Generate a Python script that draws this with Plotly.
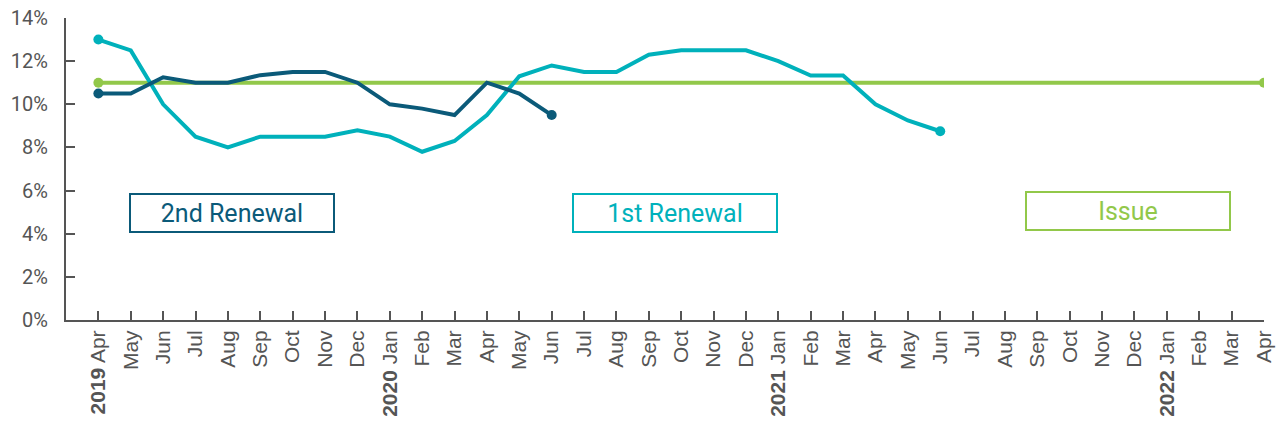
import plotly.graph_objects as go

months = ["Apr", "May", "Jun", "Jul", "Aug", "Sep", "Oct", "Nov", "Dec", "Jan", "Feb", "Mar"]
tick_labels = []
for i in range(37):
    m = months[i % 12]
    y = 2019 + (i + 3) // 12
    if i == 0 or m == "Jan":
        tick_labels.append(f"<b>{y}</b> {m}")
    else:
        tick_labels.append(m)

issue_x = [0, 36]
issue_vals = [11.0, 11.0]

renewal1_vals = [13.0, 12.5, 10.0, 8.5, 8.0, 8.5, 8.5, 8.5, 8.8, 8.5, 7.8, 8.3, 9.5,
                 11.3, 11.8, 11.5, 11.5, 12.3, 12.5, 12.5, 12.5, 12.0, 11.33, 11.33,
                 10.0, 9.25, 8.75]
renewal2_vals = [10.5, 10.5, 11.25, 11.0, 11.0, 11.35, 11.5, 11.5, 11.0, 10.0, 9.8,
                 9.5, 11.0, 10.5, 9.5]

C_ISSUE = "#92c84a"
C_R1 = "#00b1bb"
C_R2 = "#0b5a79"

fig = go.Figure()

def add_series(xs, ys, color, name):
    fig.add_trace(go.Scatter(x=xs, y=ys, mode="lines", line=dict(color=color, width=4),
                             name=name, showlegend=False, hoverinfo="skip"))
    fig.add_trace(go.Scatter(x=[xs[0], xs[-1]], y=[ys[0], ys[-1]], mode="markers",
                             marker=dict(color=color, size=10), showlegend=False,
                             hoverinfo="skip"))

add_series(issue_x, issue_vals, C_ISSUE, "Issue")
add_series(list(range(len(renewal1_vals))), renewal1_vals, C_R1, "1st Renewal")
add_series(list(range(len(renewal2_vals))), renewal2_vals, C_R2, "2nd Renewal")

labels = [("2nd Renewal", 4.14, 4.95, C_R2), ("1st Renewal", 17.8, 4.95, C_R1),
          ("Issue", 31.8, 5.05, C_ISSUE)]
for text, x, y, c in labels:
    fig.add_annotation(x=x, y=y, text=text, showarrow=False,
                       font=dict(family="Roboto", size=25, color=c),
                       bordercolor=c, borderwidth=2, borderpad=3,
                       width=196, height=30, bgcolor="white")

axis_color = "#555555"
fig.update_xaxes(range=[-1, 36], tickmode="array", tickvals=list(range(37)),
                 ticktext=tick_labels, tickangle=-90, showgrid=False, zeroline=False,
                 showline=True, linecolor=axis_color, linewidth=2, automargin=False,
                 ticks="inside", ticklen=9, tickwidth=2, tickcolor=axis_color,
                 tickfont=dict(family="Liberation Sans, Arial", size=21, color=axis_color))
fig.update_yaxes(range=[0, 14], tickvals=[0, 2, 4, 6, 8, 10, 12, 14],
                 ticktext=[f"{v}%" for v in range(0, 15, 2)],
                 showgrid=False, zeroline=False, showline=True, linecolor=axis_color,
                 linewidth=2, ticks="inside", ticklen=9, tickwidth=2, automargin=False,
                 tickcolor=axis_color, ticklabelstandoff=12,
                 tickfont=dict(family="Roboto", size=20, color=axis_color))
fig.update_layout(width=1283, height=429, margin=dict(l=66, r=19, t=18, b=109),
                  plot_bgcolor="white", paper_bgcolor="white")

fig.write_html("out.html")
